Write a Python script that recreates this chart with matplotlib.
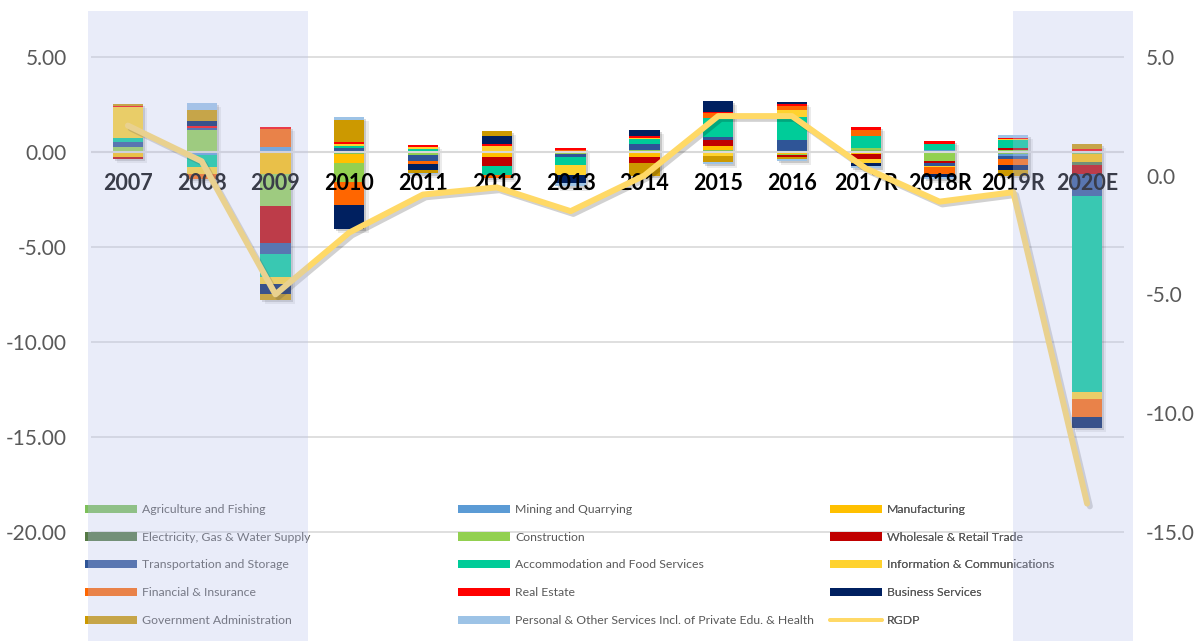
import numpy as np
import matplotlib.pyplot as plt
from matplotlib.patches import Patch, Rectangle
from matplotlib.lines import Line2D
from matplotlib import patheffects as pe
from matplotlib.ticker import FormatStrFormatter
from matplotlib.transforms import blended_transform_factory

plt.rcParams['font.family'] = ['Lato', 'DejaVu Sans']
plt.rcParams['axes.unicode_minus'] = False

years = ['2007', '2008', '2009', '2010', '2011', '2012', '2013', '2014',
         '2015', '2016', '2017R', '2018R', '2019R', '2020E']

# sector contributions to growth (percentage points)
agriculture   = [0, 0, 0, -0.10, -0.05, 0, 0, 0, 0.12, 0.06, 0.12, 0, -0.09, -0.09]
mining        = [0, -0.12, 0.30, 0.05, 0.08, 0, 0, 0, 0, 0, 0, 0.14, -0.08, 0.07]
manufacturing = [-0.26, 0, -1.16, -0.47, 0, -0.26, 0.07, -0.23, 0.23, -0.10, -0.08, 0, 0, -0.40]
electricity   = [0, 0, 0, 0, 0, 0, 0, 0, 0, 0, 0, 0, 0, -0.18]
construction  = [0.28, 1.18, -1.67, -1.02, -0.09, 0, -0.10, 0.10, 0, -0.06, 0.12, -0.44, 0.12, 0]
wholesale     = [-0.07, 0, -1.93, 0, 0, -0.46, 0, -0.32, 0.30, -0.07, -0.26, -0.10, 0.09, -0.47]
transport     = [0.25, 0.10, -0.60, 0.20, -0.30, 0, -0.12, 0.35, 0.18, 0.58, 0, -0.16, -0.18, -1.16]
accommodation = [0.25, -0.65, -1.19, 0.10, 0.10, -0.47, -0.44, 0.23, 1.00, 1.23, 0.63, 0.32, 0.42, -10.35]
info_comm     = [1.60, -0.35, -0.39, 0.07, 0.09, 0.35, -0.53, 0.07, -0.17, 0.35, -0.20, -0.09, 0.05, -0.33]
financial     = [0, -0.30, 0.95, -1.18, -0.18, -0.15, 0.06, 0, 0.25, 0.21, 0.33, -0.35, -0.30, -0.98]
real_estate   = [0.07, 0.10, 0.10, 0.10, 0.10, 0.07, 0.10, 0.09, 0.07, 0.10, 0.12, 0.12, 0.09, 0.09]
business      = [0, 0.25, -0.53, -1.28, -0.32, 0.44, -0.44, 0.32, 0.56, 0.10, -0.18, -0.17, -0.26, -0.56]
government    = [0.09, 0.60, -0.32, 1.20, -0.14, 0.26, 0, -0.70, -0.33, -0.12, 0, 0, -0.32, 0.30]
personal      = [0, 0.37, 0, 0.14, -0.05, 0, -0.17, 0, -0.12, -0.12, -0.10, -0.10, 0.14, 0]

# real GDP growth (%), right axis
rgdp = [2.1, 0.6, -5.0, -2.4, -0.8, -0.5, -1.5, 0.0, 2.5, 2.5, 0.3, -1.1, -0.7, -13.8]

sector_names = ['Agriculture and Fishing', 'Mining and Quarrying', 'Manufacturing',
                'Electricity, Gas & Water Supply', 'Construction', 'Wholesale & Retail Trade',
                'Transportation and Storage', 'Accommodation and Food Services',
                'Information & Communications', 'Financial & Insurance', 'Real Estate',
                'Business Services', 'Government Administration',
                'Personal & Other Services Incl. of Private Edu. & Health']
sectors = [agriculture, mining, manufacturing, electricity, construction, wholesale,
           transport, accommodation, info_comm, financial, real_estate, business,
           government, personal]
colors = ['#7DC05A', '#5B9BD5', '#FFC000', '#557A45', '#92D050', '#C00000',
          '#2F5597', '#00CC99', '#FFD22E', '#FF6600', '#FF0000', '#002060',
          '#CC9900', '#9DC3E6']
line_color = '#FFD966'

# recession shading, in category units
shaded = [(-0.54, 2.44), (12.0, 13.62)]

W, H = 1199, 641
fig = plt.figure(figsize=(W / 100, H / 100), dpi=100)
ax = fig.add_axes([91 / W, 0, 1033 / W, 630 / H])
ax2 = ax.twinx()

x = np.arange(len(years))
bw = 0.41
pos = np.zeros(len(years))
neg = np.zeros(len(years))
for vals, col in zip(sectors, colors):
    v = np.array(vals, dtype=float)
    base = np.where(v >= 0, pos, neg)
    ax.bar(x, v, width=bw, bottom=base, color=col, zorder=3, linewidth=0)
    pos += np.where(v > 0, v, 0)
    neg += np.where(v < 0, v, 0)

# soft drop shadow behind each stack
ax.bar(x, pos - neg, width=bw, bottom=neg, color='w', zorder=2,
       path_effects=[pe.SimplePatchShadow(offset=(1.5, -1.5), shadow_rgbFace='k', alpha=0.15),
                     pe.SimplePatchShadow(offset=(3, -3), shadow_rgbFace='k', alpha=0.08)])

ax.set_xlim(-0.5, 13.5)
ax.set_ylim(-25.76, 7.45)
ax.set_yticks([-20, -15, -10, -5, 0, 5])
ax.yaxis.set_major_formatter(FormatStrFormatter('%.2f'))
ax.grid(axis='y', color='#D9D9D9', lw=1.2, zorder=0)
ax.set_axisbelow(True)
ax.axhline(0, color='#D9D9D9', lw=1.5, zorder=4)
for s in ax.spines.values():
    s.set_visible(False)
ax.spines['bottom'].set_position(('data', 0))
ax.set_xticks(x, years, fontweight='bold', fontsize=15.5, color='black')
ax.tick_params(axis='x', length=0, pad=15)
ax.tick_params(axis='y', length=0, pad=17.3, labelsize=15, labelcolor='#595959')
# year labels sit on top of the bars
ax.xaxis.set_zorder(6)

ax2.plot(x, rgdp, color=line_color, lw=4.3, solid_joinstyle='round',
         solid_capstyle='round', zorder=3,
         path_effects=[pe.SimpleLineShadow(offset=(2, -2), shadow_color='k', alpha=0.18),
                       pe.Normal()])
ax2.set_ylim(-19.58, 6.92)
ax2.set_yticks([-15, -10, -5, 0, 5])
ax2.yaxis.set_major_formatter(FormatStrFormatter('%.1f'))
ax2.tick_params(axis='y', length=0, pad=15.8, labelsize=15, labelcolor='#595959')
for s in ax2.spines.values():
    s.set_visible(False)

# legend: three columns with equal spacing
handles = [Patch(facecolor=c, edgecolor='none') for c in colors]
handles.append(Line2D([], [], color=line_color, lw=2.7, solid_capstyle='round'))
labels = sector_names + ['RGDP']
col_x = [85, 458, 830]
for k in range(3):
    idx = list(range(k, len(labels), 3))
    leg = ax2.legend([handles[i] for i in idx], [labels[i] for i in idx],
                     loc='upper left', bbox_to_anchor=(col_x[k] / W, 1 - 504 / H),
                     bbox_transform=fig.transFigure, frameon=False, fontsize=8.8,
                     labelcolor='#595959', borderpad=0, borderaxespad=0,
                     handlelength=4.26, handleheight=0.66, handletextpad=0.41,
                     labelspacing=1.37)
    ax2.add_artist(leg)

trans = blended_transform_factory(ax.transData, fig.transFigure)
for x0, x1 in shaded:
    fig.add_artist(Rectangle((x0, 0), x1 - x0, 630 / H, transform=trans,
                             facecolor='#B9C2EC', edgecolor='none', alpha=0.31, zorder=5))

fig.savefig('out.png', dpi=100)
